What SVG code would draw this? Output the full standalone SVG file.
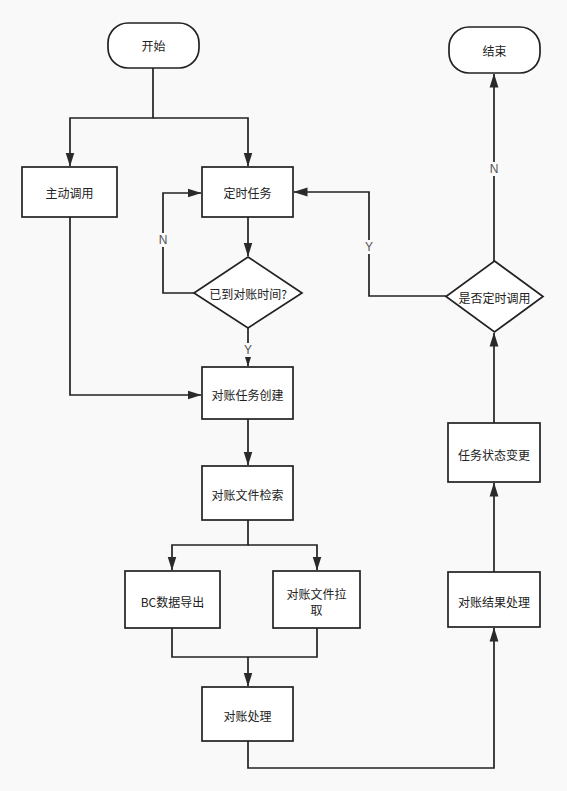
<svg xmlns="http://www.w3.org/2000/svg" width="567" height="791" viewBox="0 0 567 791">
<style>
.n{fill:#fff;stroke:#222;stroke-width:1.7}
.t{font-family:"Noto Sans CJK SC","Liberation Sans",sans-serif;font-size:12px;fill:#222;text-anchor:middle;dominant-baseline:central}
.l{font-family:"Liberation Sans","Noto Sans CJK SC",sans-serif;font-size:12px;fill:#555;text-anchor:middle;dominant-baseline:central}
.c{fill:none;stroke:#222;stroke-width:1.7}
</style>
<defs>
<marker id="a" markerWidth="14" markerHeight="10" refX="13.5" refY="5" orient="auto" markerUnits="userSpaceOnUse" viewBox="0 0 14 10">
<path d="M0,0.6 L14,5 L0,9.4 Z" fill="#2a2a2a"/>
</marker>
</defs>
<rect width="567" height="791" fill="#f9f9f9"/>
<g id="connectors">
<path class="c" d="M153,68 V118 H70 V166" marker-end="url(#a)"/>
<path class="c" d="M153,118 H248 V166" marker-end="url(#a)"/>
<path class="c" d="M248,217 V256" marker-end="url(#a)"/>
<path class="c" d="M194,293 H163 V193 H201" marker-end="url(#a)"/>
<rect x="156" y="233" width="14" height="14" fill="#f9f9f9"/>
<text class="l" x="163" y="240">N</text>
<path class="c" d="M248,328 V366" marker-end="url(#a)"/>
<rect x="241" y="343" width="14" height="14" fill="#f9f9f9"/>
<text class="l" x="248" y="350">Y</text>
<path class="c" d="M70,217 V395 H201" marker-end="url(#a)"/>
<path class="c" d="M248,419 V465" marker-end="url(#a)"/>
<path class="c" d="M248,520 V545 H172 V570" marker-end="url(#a)"/>
<path class="c" d="M248,545 H317 V570" marker-end="url(#a)"/>
<path class="c" d="M172,628 V657 H317 V628"/>
<path class="c" d="M248,657 V686" marker-end="url(#a)"/>
<path class="c" d="M248,741 V768 H494 V628" marker-end="url(#a)"/>
<path class="c" d="M494,572 V483" marker-end="url(#a)"/>
<path class="c" d="M494,423 V333" marker-end="url(#a)"/>
<path class="c" d="M446,296 H369 V192 H294" marker-end="url(#a)"/>
<rect x="362" y="240" width="14" height="14" fill="#f9f9f9"/>
<text class="l" x="369" y="247">Y</text>
<path class="c" d="M494,261 V74" marker-end="url(#a)"/>
<rect x="487" y="162" width="14" height="14" fill="#f9f9f9"/>
<text class="l" x="494" y="169">N</text>
</g>
<g id="start"><rect class="n" x="108" y="23" width="91" height="45" rx="20"/><text class="t" x="153.5" y="45.5">开始</text></g>
<g id="end"><rect class="n" x="449" y="27" width="91" height="46" rx="20"/><text class="t" x="494.5" y="50">结束</text></g>
<g id="manual"><rect class="n" x="22" y="167" width="95" height="50"/><text class="t" x="69.5" y="192">主动调用</text></g>
<g id="timer"><rect class="n" x="202" y="167" width="91" height="50"/><text class="t" x="247.5" y="192">定时任务</text></g>
<g id="check-time"><polygon class="n" points="248,257 302,293 248,328 194,293"/><text class="t" x="248" y="293">已到对账时间?</text></g>
<g id="create"><rect class="n" x="202" y="367" width="91" height="52"/><text class="t" x="247.5" y="394">对账任务创建</text></g>
<g id="search"><rect class="n" x="202" y="466" width="91" height="54"/><text class="t" x="247.5" y="494">对账文件检索</text></g>
<g id="bc-export"><rect class="n" x="125" y="571" width="95" height="57"/><text class="t" x="172.5" y="601">BC数据导出</text></g>
<g id="pull"><rect class="n" x="273" y="571" width="87" height="57"/><text class="t" x="316.5" y="593">对账文件拉</text><text class="t" x="316.5" y="609">取</text></g>
<g id="process"><rect class="n" x="202" y="687" width="91" height="54"/><text class="t" x="247.5" y="715">对账处理</text></g>
<g id="result"><rect class="n" x="448" y="572" width="92" height="55"/><text class="t" x="494" y="601">对账结果处理</text></g>
<g id="status"><rect class="n" x="448" y="423" width="92" height="59"/><text class="t" x="494" y="454">任务状态变更</text></g>
<g id="is-timer"><polygon class="n" points="494.5,261 543,296.5 494.5,332 446,296.5"/><text class="t" x="494.5" y="297">是否定时调用</text></g>
</svg>
